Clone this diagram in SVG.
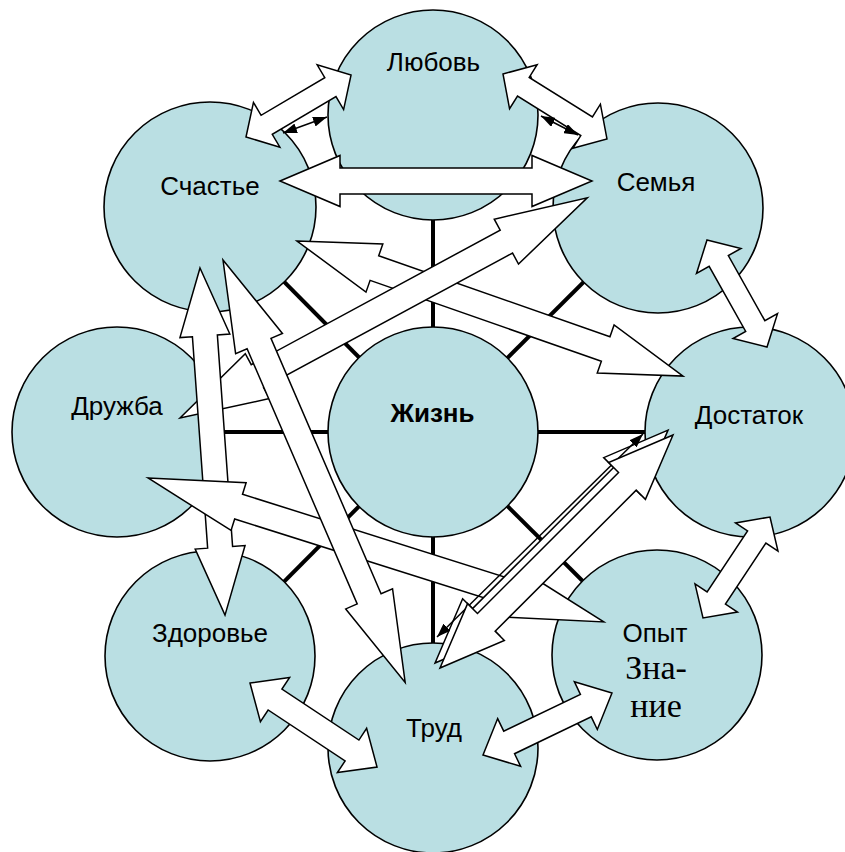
<svg xmlns="http://www.w3.org/2000/svg" width="845" height="852" viewBox="0 0 845 852">
<defs>
<style>
.node ellipse{fill:#BADFE3;stroke:#000;stroke-width:1.6}
.lbl{font-family:"Liberation Sans",Arial,sans-serif;font-size:26px;fill:#000;text-anchor:middle}
.lbls{font-family:"Liberation Serif","Times New Roman",serif;font-size:34px;fill:#000;text-anchor:middle}
.spoke{stroke:#000;stroke-width:4;fill:none}
.ba{fill:#fff;stroke:#000;stroke-width:1.5;stroke-linejoin:miter}
.thin{stroke:#000;stroke-width:1.5;fill:none;marker-start:url(#ah);marker-end:url(#ah)}
</style>
<marker id="ah" viewBox="0 0 14 10" refX="14" refY="5" markerUnits="userSpaceOnUse" markerWidth="14" markerHeight="10" orient="auto-start-reverse">
<path d="M0,0 L14,5 L0,10 Z" fill="#000"/>
</marker>
</defs>
<rect width="845" height="852" fill="#fff"/>
<g id="spokes">
<line class="spoke" x1="433" y1="432" x2="433" y2="115"/>
<line class="spoke" x1="433" y1="432" x2="210" y2="207"/>
<line class="spoke" x1="433" y1="432" x2="658" y2="208"/>
<line class="spoke" x1="433" y1="432" x2="117" y2="432"/>
<line class="spoke" x1="433" y1="432" x2="750" y2="432"/>
<line class="spoke" x1="433" y1="432" x2="210" y2="656"/>
<line class="spoke" x1="433" y1="432" x2="657" y2="655"/>
<line class="spoke" x1="433" y1="432" x2="433" y2="748"/>
</g>
<g id="n-lyubov" class="node"><ellipse cx="433" cy="115" rx="105" ry="105"/><text class="lbl" x="433.5" y="71">Любовь</text></g>
<g id="n-schastye" class="node"><ellipse cx="210" cy="207" rx="106" ry="105"/><text class="lbl" x="210" y="195">Счастье</text></g>
<g id="n-semya" class="node"><ellipse cx="658" cy="208" rx="105" ry="105"/><text class="lbl" x="656" y="191">Семья</text></g>
<g id="n-druzhba" class="node"><ellipse cx="117" cy="432" rx="105" ry="105"/><text class="lbl" x="117" y="415">Дружба</text></g>
<g id="n-zhizn" class="node"><ellipse cx="433" cy="432" rx="105" ry="105"/><text class="lbl" x="432.5" y="422" font-weight="bold" font-size="28">Жизнь</text></g>
<g id="n-dostatok" class="node"><ellipse cx="750" cy="432" rx="105" ry="105"/><text class="lbl" x="749" y="424">Достаток</text></g>
<g id="n-zdorovye" class="node"><ellipse cx="210" cy="656" rx="105" ry="105"/><text class="lbl" x="210" y="642">Здоровье</text></g>
<g id="n-opyt" class="node"><ellipse cx="657" cy="655" rx="105" ry="105"/><text class="lbl" x="655" y="642">Опыт</text><text class="lbls" x="656" y="679">Зна-</text><text class="lbls" x="656" y="717">ние</text></g>
<g id="n-trud" class="node"><ellipse cx="433" cy="748" rx="105" ry="105"/><text class="lbl" x="434" y="737">Труд</text></g>
<g id="connectors">
<path class="ba" transform="translate(246,137) rotate(-30.56)" d="M0,0 L24,-26 L24,-11 L98,-11 L98,-26 L122,0 L98,26 L98,11 L24,11 L24,26 Z"/>
<path class="ba" transform="translate(503,74) rotate(32)" d="M0,0 L24,-26 L24,-11 L98.6,-11 L98.6,-26 L122.6,0 L98.6,26 L98.6,11 L24,11 L24,26 Z"/>
<line class="thin" x1="283" y1="133" x2="327" y2="117"/>
<line class="thin" x1="541" y1="116" x2="578" y2="135"/>
<path class="ba" transform="translate(280,181)" d="M0,0 L60,-25.5 L60,-13 L252,-13 L252,-25.5 L312,0 L252,25.5 L252,13 L60,13 L60,25.5 Z"/>
<path class="ba" transform="translate(707,240) rotate(60.72)" d="M0,0 L24,-25.5 L24,-11 L98.7,-11 L98.7,-25.5 L122.7,0 L98.7,25.5 L98.7,11 L24,11 L24,25.5 Z"/>
<path class="ba" transform="translate(770,517) rotate(123.56)" d="M0,0 L24,-25.5 L24,-11 L97.2,-11 L97.2,-25.5 L121.2,0 L97.2,25.5 L97.2,11 L24,11 L24,25.5 Z"/>
<path class="ba" transform="translate(250,683) rotate(33.48)" d="M0,0 L30,-26.5 L30,-12.5 L122.3,-12.5 L122.3,-26.5 L152.3,0 L122.3,26.5 L122.3,12.5 L30,12.5 L30,26.5 Z"/>
<path class="ba" transform="translate(483,755) rotate(-25.67)" d="M0,0 L29,-26.5 L29,-12.5 L114.1,-12.5 L114.1,-26.5 L143.1,0 L114.1,26.5 L114.1,12.5 L29,12.5 L29,26.5 Z"/>
<path class="ba" transform="translate(297,241) rotate(19.28)" d="M0,0 L82,-25.5 L82,-13 L327,-13 L327,-25.5 L409,0 L327,25.5 L327,13 L82,13 L82,25.5 Z"/>
<path class="ba" transform="translate(180,418) rotate(-28.39)" d="M0,0 L88,-25.5 L88,-13 L371,-13 L371,-25.5 L463,0 L371,25.5 L371,13 L88,13 L88,25.5 Z"/>
<path class="ba" transform="translate(200,268) rotate(85.88)" d="M0,0 L68,-25 L68,-12.5 L280,-12.5 L280,-25 L348,0 L280,25 L280,12.5 L68,12.5 L68,25 Z"/>
<path class="ba" transform="translate(148,478) rotate(17.53)" d="M0,0 L95,-25 L95,-13 L383,-13 L383,-25 L478,0 L383,25 L383,13 L95,13 L95,25 Z"/>
<path class="ba" transform="translate(223,260) rotate(66.67)" d="M0,0 L91,-25.5 L91,-13 L369,-13 L369,-25.5 L460,0 L369,25.5 L369,13 L91,13 L91,25.5 Z"/>
<path class="ba" transform="translate(440,668) rotate(-45) translate(0,-7)" d="M0,0 L65,-26 L65,-12 L264.5,-12 L264.5,-26 L329.5,0 L264.5,26 L264.5,13 L65,13 L65,26 Z"/>
<line class="thin" x1="437" y1="637" x2="643" y2="434"/>
<path class="ba" transform="translate(440,668) rotate(-45)" d="M0,0 L65,-26 L65,-12 L264.5,-12 L264.5,-26 L329.5,0 L264.5,26 L264.5,13 L65,13 L65,26 Z"/>
</g>
</svg>
